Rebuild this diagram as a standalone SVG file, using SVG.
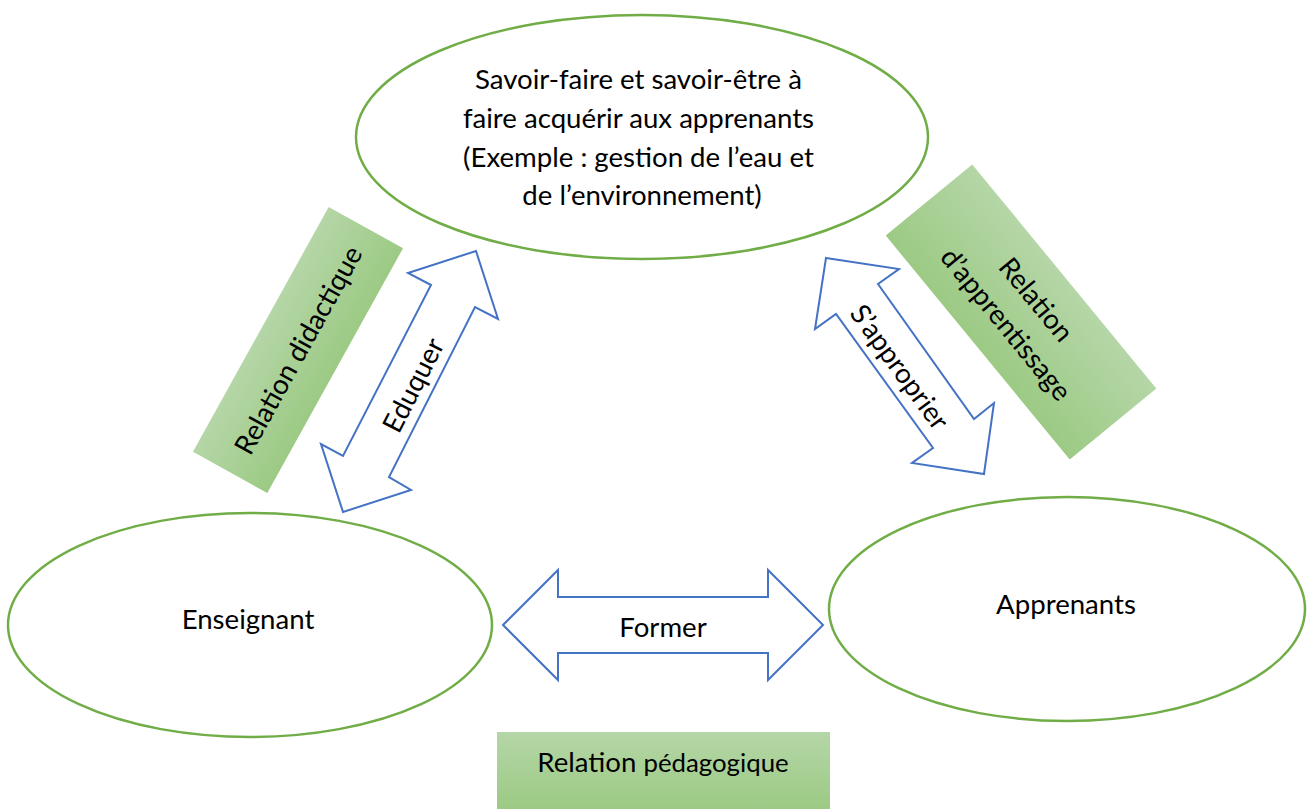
<svg xmlns="http://www.w3.org/2000/svg" width="1312" height="809" viewBox="0 0 1312 809">
<style>
.ell{fill:#ffffff;stroke:#70ad47;stroke-width:2.5}
.arr{fill:#ffffff;stroke:#4472c4;stroke-width:2;stroke-linejoin:miter}
.box{fill:url(#g)}
.t{font-family:Lato,"Liberation Sans",Arial,sans-serif;font-size:27.6px;fill:#000000}
.m{text-anchor:middle}
</style>
<defs>
<linearGradient id="g" x1="0" y1="0" x2="0" y2="1">
<stop offset="0" stop-color="#b5d6a7"/>
<stop offset="1" stop-color="#9cca84"/>
</linearGradient>
</defs>
<rect width="1312" height="809" fill="#ffffff"/>

<g id="savoir">
<ellipse class="ell" cx="642" cy="137" rx="286" ry="122"/>
<text class="t m">
<tspan x="642" y="89">Savoir-faire et savoir-être à</tspan>
<tspan x="642" y="128">faire acquérir aux apprenants</tspan>
<tspan x="642" y="167">(Exemple : gestion de l’eau et</tspan>
<tspan x="642" y="205">de l’environnement)</tspan>
</text>
</g>

<g id="enseignant">
<ellipse class="ell" cx="250" cy="625" rx="242" ry="112"/>
<text class="t m" x="248" y="629">Enseignant</text>
</g>

<g id="apprenants">
<ellipse class="ell" cx="1067" cy="609" rx="238" ry="112"/>
<text class="t m" x="1066" y="614">Apprenants</text>
</g>

<g id="relation-didactique" transform="translate(298,350) rotate(-61)">
<rect class="box" x="-140" y="-42.5" width="280" height="85"/>
<text class="t m" x="0" y="10">Relation didactique</text>
</g>

<g id="relation-apprentissage" transform="translate(1021,312) rotate(50.6)">
<rect class="box" x="-145" y="-56" width="290" height="112"/>
<text class="t m"><tspan x="0" y="-10">Relation</tspan><tspan x="0" y="29">d’apprentissage</tspan></text>
</g>

<g id="relation-pedagogique">
<rect class="box" x="497" y="732" width="333" height="77"/>
<text class="t m" x="663" y="772">Relation <tspan style="font-size:25.8px">pédagogique</tspan></text>
</g>

<g id="connectors">
<g id="eduquer">
<polygon class="arr" points="476,251 498,319 475,307 389,477 411,490 343,512 321,444 343,456 431,285 408,273"/>
<text class="t m" transform="translate(413,385) rotate(-63)" x="0" y="10">Eduquer</text>
</g>
<g id="approprier">
<polygon class="arr" points="826,258 899,269 878,284 974,419 994,403 984,474 912,463 933,448 836,314 815,329"/>
<text class="t m" transform="translate(900,367) rotate(54)" x="0" y="10">S’approprier</text>
</g>
<g id="former">
<polygon class="arr" points="503,625 558,570 558,597 768,597 768,570 823,625 768,680 768,653 558,653 558,680"/>
<text class="t m" x="663" y="637">Former</text>
</g>
</g>
</svg>
